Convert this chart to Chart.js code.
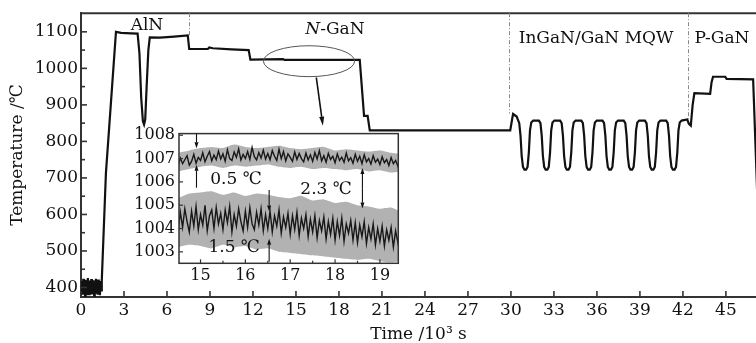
<!DOCTYPE html>
<html><head><meta charset="utf-8">
<script src="https://cdn.jsdelivr.net/npm/chart.js@4/dist/chart.umd.min.js"></script>
<style>
html,body{margin:0;padding:0;background:#fff;}
#wrap{position:relative;width:756px;height:343px;overflow:hidden;}
#main{position:absolute;left:0;top:0;}
#inset{position:absolute;left:110px;top:120px;}
</style></head><body>
<div id="wrap"><canvas id="main" width="756" height="343"></canvas><canvas id="inset" width="300" height="175"></canvas></div>
<script>
// ---------- main trace (time in 10^3 s, temperature in C) ----------
const mainTime = [
 0.00,0.04,0.08,0.12,0.16,0.20,0.24,0.28,0.32,0.36,0.40,0.44,0.48,0.52,0.56,0.60,0.64,0.68,0.72,0.76,
 0.80,0.84,0.88,0.92,0.96,1.00,1.04,1.08,1.12,1.16,1.20,1.24,1.28,1.32,1.36,1.40,
 1.45,1.74,2.44,2.80,3.50,3.95,4.08,4.20,4.32,4.40,4.48,4.58,4.70,4.80,5.50,6.50,7.45,7.55,
 8.85,8.95,9.20,10.50,11.70,11.82,14.10,14.20,19.45,19.75,20.00,20.15,29.95,30.08,30.15,30.40,
 30.58,30.67,30.75,30.84,30.94,31.06,31.16,31.25,31.33,31.42,31.55,
 31.95,32.06,32.15,32.23,32.32,32.42,32.54,32.64,32.73,32.81,32.90,33.03,
 33.43,33.54,33.63,33.71,33.80,33.90,34.02,34.12,34.21,34.29,34.38,34.51,
 34.91,35.02,35.11,35.19,35.28,35.38,35.50,35.60,35.69,35.77,35.86,35.99,
 36.39,36.50,36.59,36.67,36.76,36.86,36.98,37.08,37.17,37.25,37.34,37.47,
 37.87,37.98,38.07,38.15,38.24,38.34,38.46,38.56,38.65,38.73,38.82,38.95,
 39.35,39.46,39.55,39.63,39.72,39.82,39.94,40.04,40.13,40.21,40.30,40.43,
 40.83,40.94,41.03,41.11,41.20,41.30,41.42,41.52,41.61,41.69,41.78,41.91,
 42.30,42.42,42.55,42.68,42.80,43.90,44.00,44.10,44.95,45.05,46.90,47.20
];
const mainTemp = [
 418,384,412,380,424,390,408,378,421,386,416,382,426,392,410,379,419,385,423,381,
 413,388,420,378,416,391,424,383,410,380,422,386,415,379,418,392,
 420,714,1100,1097,1096,1095,1040,920,855,846,860,950,1050,1085,1084,1087,1090,1053,
 1053,1057,1055,1052,1050,1024,1025,1023,1023,870,870,830,830,860,875,868,
 850,815,760,730,723,723,730,770,830,852,857,
 857,850,815,760,730,723,723,730,770,830,852,857,
 857,850,815,760,730,723,723,730,770,830,852,857,
 857,850,815,760,730,723,723,730,770,830,852,857,
 857,850,815,760,730,723,723,730,770,830,852,857,
 857,850,815,760,730,723,723,730,770,830,852,857,
 857,850,815,760,730,723,723,730,770,830,852,857,
 857,850,815,760,730,723,723,730,770,830,852,857,
 860,848,843,900,932,930,962,977,977,971,970,640
];
const mainXTicks = [0,3,6,9,12,15,18,21,24,27,30,33,36,39,42,45];
const mainYTicks = [400,500,600,700,800,900,1000,1100];
const mainYMinor = [450,550,650,750,850,950,1050];

// ---------- inset (zoom of the N-GaN plateau) ----------
const insetTime = [
 14.50,14.55,14.60,14.65,14.70,14.75,14.80,14.85,14.90,14.95,
 15.00,15.05,15.10,15.15,15.20,15.25,15.30,15.35,15.40,15.45,
 15.50,15.55,15.60,15.65,15.70,15.75,15.80,15.85,15.90,15.95,
 16.00,16.05,16.10,16.15,16.20,16.25,16.30,16.35,16.40,16.45,
 16.50,16.55,16.60,16.65,16.70,16.75,16.80,16.85,16.90,16.95,
 17.00,17.05,17.10,17.15,17.20,17.25,17.30,17.35,17.40,17.45,
 17.50,17.55,17.60,17.65,17.70,17.75,17.80,17.85,17.90,17.95,
 18.00,18.05,18.10,18.15,18.20,18.25,18.30,18.35,18.40,18.45,
 18.50,18.55,18.60,18.65,18.70,18.75,18.80,18.85,18.90,18.95,
 19.00,19.05,19.10,19.15,19.20,19.25,19.30,19.35,19.40,19.45
];
const insetUpper = [
 1006.70,1007.02,1006.78,1006.95,1007.12,1006.72,1006.88,1007.18,1006.80,1007.05,
 1006.92,1007.25,1006.86,1007.10,1007.30,1006.90,1007.15,1006.95,1007.32,1006.98,
 1007.20,1006.88,1007.38,1007.00,1006.92,1007.28,1007.05,1007.42,1006.94,1007.18,
 1007.00,1007.30,1006.96,1007.48,1007.08,1006.94,1007.26,1007.02,1007.36,1006.98,
 1007.22,1006.95,1007.34,1007.10,1006.92,1007.40,1007.00,1007.30,1006.90,1007.20,
 1007.05,1006.88,1007.28,1006.96,1007.22,1007.00,1006.86,1007.24,1006.94,1007.16,
 1006.88,1007.26,1006.98,1007.34,1006.90,1007.12,1006.84,1007.22,1006.96,1007.10,
 1006.82,1007.20,1006.92,1007.06,1006.84,1007.24,1006.90,1007.04,1006.80,1007.18,
 1006.88,1007.10,1006.78,1007.16,1006.86,1007.00,1006.76,1007.12,1006.84,1006.98,
 1006.74,1007.08,1006.82,1006.96,1006.70,1007.04,1006.78,1006.92,1006.68,1007.00
];
const insetLower = [
 1003.90,1004.70,1004.05,1004.85,1004.30,1003.85,1004.75,1004.10,1004.95,1003.95,
 1004.60,1004.15,1005.00,1003.90,1004.55,1004.80,1004.00,1004.90,1004.20,1004.65,
 1003.95,1004.80,1004.25,1004.95,1003.85,1004.60,1004.10,1004.85,1004.30,1003.90,
 1004.75,1004.05,1004.90,1004.20,1003.95,1004.70,1004.15,1004.85,1003.90,1004.60,
 1004.00,1004.75,1003.85,1004.55,1004.10,1004.80,1003.80,1004.50,1004.05,1004.65,
 1003.75,1004.55,1003.95,1004.70,1003.70,1004.45,1004.00,1004.60,1003.65,1004.40,
 1003.85,1004.55,1003.60,1004.35,1003.90,1004.50,1003.55,1004.30,1003.75,1004.45,
 1003.50,1004.30,1003.70,1004.45,1003.45,1004.20,1003.80,1004.35,1003.50,1004.25,
 1003.40,1004.15,1003.65,1004.30,1003.35,1004.05,1003.55,1004.20,1003.30,1004.00,
 1003.45,1004.10,1003.25,1003.95,1003.50,1004.05,1003.20,1003.90,1003.40,1004.00
];
// outer (grey) spread of the noisy records
const insetEnvTime = [14.50,14.75,15.00,15.25,15.50,15.75,16.00,16.25,16.50,16.75,17.00,17.25,17.50,17.75,18.00,18.25,18.50,18.75,19.00,19.25,19.50];
const upperHi = [1007.25,1007.35,1007.45,1007.50,1007.45,1007.60,1007.50,1007.45,1007.50,1007.55,1007.45,1007.40,1007.45,1007.50,1007.35,1007.40,1007.35,1007.30,1007.35,1007.25,1007.20];
const upperLo = [1006.45,1006.55,1006.65,1006.70,1006.60,1006.70,1006.65,1006.70,1006.75,1006.65,1006.60,1006.65,1006.55,1006.60,1006.55,1006.50,1006.55,1006.45,1006.50,1006.40,1006.45];
const lowerHi = [1005.30,1005.50,1005.55,1005.60,1005.45,1005.55,1005.40,1005.50,1005.45,1005.35,1005.30,1005.40,1005.20,1005.25,1005.10,1005.15,1005.00,1004.95,1004.85,1004.90,1004.70];
const lowerLo = [1003.20,1003.30,1003.25,1003.15,1003.30,1003.20,1003.25,1003.10,1003.15,1003.00,1002.95,1002.90,1002.85,1002.80,1002.75,1002.70,1002.65,1002.70,1002.60,1002.55,1002.60];
const insetXTicks = [15,16,17,18,19];
const insetXMinor = [15.5,16.5,17.5,18.5];
const insetYTicks = [1003,1004,1005,1006,1007,1008];

// ---------- helpers ----------
const FONT = "'DejaVu Serif', 'Liberation Serif', serif";
Chart.defaults.font.family = FONT;
Chart.defaults.color = '#111';
const plain = v => String(v);

function seg(ctx, x1, y1, x2, y2) { ctx.beginPath(); ctx.moveTo(x1, y1); ctx.lineTo(x2, y2); ctx.stroke(); }
function arrow(ctx, x1, y1, x2, y2, hl, hw) {
  const ang = Math.atan2(y2 - y1, x2 - x1);
  const bx = x2 - hl * Math.cos(ang), by = y2 - hl * Math.sin(ang);
  seg(ctx, x1, y1, bx, by);
  ctx.beginPath();
  ctx.moveTo(x2, y2);
  ctx.lineTo(bx + hw / 2 * Math.sin(ang), by - hw / 2 * Math.cos(ang));
  ctx.lineTo(bx - hw / 2 * Math.sin(ang), by + hw / 2 * Math.cos(ang));
  ctx.closePath(); ctx.fill();
}
const pts = (xs, ys) => xs.map((t, i) => ({ x: t, y: ys[i] }));
const noGrid = { display: false, drawTicks: false, tickLength: 0 };

const mainDeco = {
  id: 'mainDeco',
  afterDraw(chart) {
    const { ctx, chartArea: a, scales: { x, y } } = chart;
    ctx.save();
    ctx.strokeStyle = '#333'; ctx.fillStyle = '#111';
    ctx.lineWidth = 2;
    seg(ctx, a.left, a.top, a.right, a.top);
    ctx.lineWidth = 1.6;
    mainYTicks.forEach(v => { const p = y.getPixelForValue(v); seg(ctx, a.left, p, a.left + 6, p); });
    mainYMinor.forEach(v => { const p = y.getPixelForValue(v); seg(ctx, a.left, p, a.left + 4, p); });
    mainXTicks.forEach(v => { const p = x.getPixelForValue(v); seg(ctx, p, a.bottom, p, a.bottom - 6); });

    ctx.strokeStyle = '#8a8a8a'; ctx.lineWidth = 1; ctx.setLineDash([4, 2, 1, 2]);
    [[7.55, 1090], [29.85, 876], [42.35, 858]].forEach(([t, v]) => {
      const px = Math.round(x.getPixelForValue(t)) + 0.5;
      seg(ctx, px, a.top, px, y.getPixelForValue(v));
    });
    ctx.setLineDash([]);

    const cx = x.getPixelForValue(15.91), cy = y.getPixelForValue(1019.6);
    const rx = x.getPixelForValue(15.91 + 3.18) - cx, ry = cy - y.getPixelForValue(1019.6 + 42.3);
    ctx.strokeStyle = '#555'; ctx.lineWidth = 1;
    ctx.beginPath(); ctx.ellipse(cx, cy, rx, ry, 0, 0, Math.PI * 2); ctx.stroke();
    ctx.strokeStyle = '#111'; ctx.lineWidth = 1.6;
    arrow(ctx, x.getPixelForValue(16.42), y.getPixelForValue(975), x.getPixelForValue(16.88), y.getPixelForValue(843), 9, 5);

    ctx.textBaseline = 'middle'; ctx.textAlign = 'center'; ctx.fillStyle = '#111';
    ctx.font = '17px ' + FONT;
    ctx.fillText('AlN', x.getPixelForValue(4.6), y.getPixelForValue(1118));
    ctx.fillText('InGaN/GaN MQW', x.getPixelForValue(35.94), y.getPixelForValue(1082));
    ctx.fillText('P-GaN', x.getPixelForValue(44.73), y.getPixelForValue(1082));
    const nx = x.getPixelForValue(17.72), ny = y.getPixelForValue(1106);
    ctx.font = 'italic 17px ' + FONT; const w1 = ctx.measureText('N').width;
    ctx.font = '17px ' + FONT; const w2 = ctx.measureText('-GaN').width;
    ctx.textAlign = 'left';
    ctx.font = 'italic 17px ' + FONT; ctx.fillText('N', nx - (w1 + w2) / 2, ny);
    ctx.font = '17px ' + FONT; ctx.fillText('-GaN', nx - (w1 + w2) / 2 + w1, ny);
    ctx.restore();
  }
};

new Chart(document.getElementById('main'), {
  type: 'scatter',
  data: { datasets: [{
    data: pts(mainTime, mainTemp),
    showLine: true, borderColor: '#111', borderWidth: 2.2, pointRadius: 0, tension: 0
  }] },
  options: {
    responsive: false, animation: false, events: [],
    plugins: { legend: { display: false }, tooltip: { enabled: false } },
    layout: { padding: { top: 7, right: 0, left: 0, bottom: 0 } },
    scales: {
      x: {
        type: 'linear', min: 0, max: 47.1,
        afterBuildTicks: s => { s.ticks = mainXTicks.map(v => ({ value: v })); },
        afterFit: s => { s.height = 46; },
        grid: noGrid, border: { display: true, color: '#333', width: 2 },
        ticks: { font: { size: 17 }, padding: 3, maxRotation: 0, autoSkip: false, color: '#111', callback: plain },
        title: { display: true, text: 'Time /10³ s', font: { size: 17, lineHeight: 1 }, padding: { top: 0, bottom: 0 }, color: '#111' }
      },
      y: {
        type: 'linear', min: 374, max: 1151,
        afterBuildTicks: s => { s.ticks = mainYTicks.map(v => ({ value: v })); },
        afterFit: s => { s.width = 81; },
        grid: noGrid, border: { display: true, color: '#333', width: 2 },
        ticks: { font: { size: 17 }, padding: 3, autoSkip: false, color: '#111', callback: plain },
        title: { display: true, text: 'Temperature /℃', font: { size: 17, lineHeight: 1 }, padding: { top: 9.5, bottom: 0 }, color: '#111' }
      }
    }
  },
  plugins: [mainDeco]
});

const insetDeco = {
  id: 'insetDeco',
  afterDraw(chart) {
    const { ctx, chartArea: a, scales: { x, y } } = chart;
    ctx.save();
    ctx.strokeStyle = '#333'; ctx.fillStyle = '#111'; ctx.lineWidth = 1.5;
    ctx.strokeRect(a.left, a.top, a.right - a.left, a.bottom - a.top);
    ctx.lineWidth = 1.2;
    insetYTicks.forEach(v => { const p = y.getPixelForValue(v); seg(ctx, a.left, p, a.left + 4, p); });
    insetXTicks.forEach(v => { const p = x.getPixelForValue(v); seg(ctx, p, a.bottom, p, a.bottom - 4); });
    insetXMinor.forEach(v => { const p = x.getPixelForValue(v); seg(ctx, p, a.bottom, p, a.bottom - 2.5); });
    ctx.strokeStyle = '#111'; ctx.lineWidth = 1.1;
    const P = (t, v) => [x.getPixelForValue(t), y.getPixelForValue(v)];
    arrow(ctx, ...P(14.91, 1008.07), ...P(14.91, 1007.44), 6, 4);
    arrow(ctx, ...P(14.91, 1005.75), ...P(14.91, 1006.74), 6, 4);
    arrow(ctx, ...P(16.53, 1005.65), ...P(16.53, 1004.73), 6, 4);
    arrow(ctx, ...P(16.53, 1002.58), ...P(16.53, 1003.56), 6, 4);
    const [dx, dy1] = P(18.61, 1006.59), [, dy2] = P(18.61, 1004.86);
    arrow(ctx, dx, (dy1 + dy2) / 2, dx, dy1, 6, 4);
    arrow(ctx, dx, (dy1 + dy2) / 2, dx, dy2, 6, 4);
    ctx.font = '17px ' + FONT; ctx.textAlign = 'center'; ctx.textBaseline = 'middle';
    ctx.fillText('0.5 ℃', ...P(15.79, 1006.11));
    ctx.fillText('2.3 ℃', ...P(17.80, 1005.69));
    ctx.fillText('1.5 ℃', ...P(15.75, 1003.20));
    ctx.restore();
  }
};

const envStyle = { showLine: true, borderWidth: 0, pointRadius: 0, tension: 0.2, backgroundColor: 'rgba(0,0,0,0.3)' };
const coreStyle = { showLine: true, borderColor: 'rgba(10,10,10,0.9)', borderWidth: 1.4, pointRadius: 0, fill: false };
new Chart(document.getElementById('inset'), {
  type: 'scatter',
  data: { datasets: [
    Object.assign({ data: pts(insetEnvTime, upperHi), fill: '+1' }, envStyle),
    Object.assign({ data: pts(insetEnvTime, upperLo), fill: false }, envStyle),
    Object.assign({ data: pts(insetEnvTime, lowerHi), fill: '+1' }, envStyle),
    Object.assign({ data: pts(insetEnvTime, lowerLo), fill: false }, envStyle),
    Object.assign({ data: pts(insetTime, insetUpper) }, coreStyle),
    Object.assign({ data: pts(insetTime, insetLower) }, coreStyle)
  ] },
  options: {
    responsive: false, animation: false, events: [],
    plugins: { legend: { display: false }, tooltip: { enabled: false } },
    layout: { padding: { top: 11.7, right: 11.7, left: 0, bottom: 0 } },
    scales: {
      x: {
        type: 'linear', min: 14.52, max: 19.41,
        afterBuildTicks: s => { s.ticks = insetXTicks.map(v => ({ value: v })); },
        afterFit: s => { s.height = 31.7; },
        grid: noGrid, border: { display: false },
        ticks: { font: { size: 16 }, padding: 3, maxRotation: 0, autoSkip: false, color: '#111', callback: plain }
      },
      y: {
        type: 'linear', min: 1002.51, max: 1008.07,
        afterBuildTicks: s => { s.ticks = insetYTicks.map(v => ({ value: v })); },
        afterFit: s => { s.width = 69; },
        grid: noGrid, border: { display: false },
        ticks: { font: { size: 16 }, padding: 4, autoSkip: false, color: '#111', callback: plain }
      }
    }
  },
  plugins: [insetDeco]
});
</script>
</body></html>
